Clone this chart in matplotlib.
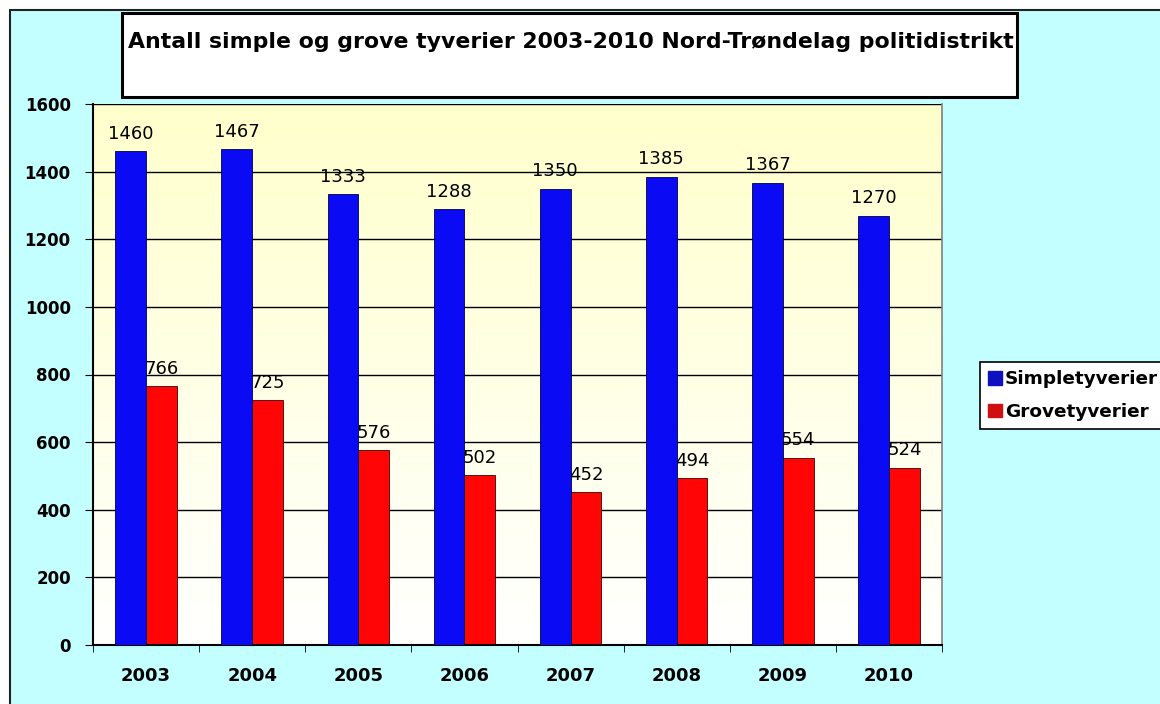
import matplotlib
matplotlib.use("Agg")
import matplotlib.pyplot as plt
import numpy as np
from matplotlib.patches import Rectangle, Patch

years = ["2003", "2004", "2005", "2006", "2007", "2008", "2009", "2010"]
simple = [1460, 1467, 1333, 1288, 1350, 1385, 1367, 1270]
grove = [766, 725, 576, 502, 452, 494, 554, 524]
series_names = ["Simpletyverier", "Grovetyverier"]
title = "Antall simple og grove tyverier 2003-2010 Nord-Trøndelag politidistrikt"
yticks = [0, 200, 400, 600, 800, 1000, 1200, 1400, 1600]

plt.rcParams['font.family'] = ['DejaVu Sans']

W, H = 1160, 704
fig = plt.figure(figsize=(W / 100, H / 100), dpi=100, facecolor="white")

def fx(px):
    return px / W

def fy(py):
    return 1 - py / H

# background axes covering the figure
bg = fig.add_axes([0, 0, 1, 1], zorder=-5)
bg.set_xlim(0, W)
bg.set_ylim(H, 0)
bg.axis("off")
bg.add_patch(Rectangle((10, 10), 1300, 800, facecolor="#C4FFFF",
                       edgecolor="#222222", linewidth=1.5))
bg.add_patch(Rectangle((122, 13), 895, 84, facecolor="white",
                       edgecolor="black", linewidth=2.2))
bg.text(571, 42, title, ha="center", va="center", fontsize=15.8,
        fontweight="bold", color="black")

ax = fig.add_axes([fx(93), fy(645), fx(942) - fx(93), fy(104) - fy(645)], zorder=2)
ax.set_facecolor("none")

# gradient background
grad = np.linspace(0, 1, 256).reshape(-1, 1)
top = np.array([1.0, 1.0, 0.80])
bot = np.array([1.0, 1.0, 1.0])
img = top[None, None, :] * (1 - grad[..., None]) + bot[None, None, :] * grad[..., None]
ax.imshow(img, extent=[-0.5, 7.5, 0, 1600], origin="upper", aspect="auto", zorder=0,
          interpolation="bilinear")

x = np.arange(len(years))
w = 0.29
ax.set_xlim(-0.5, 7.5)
ax.set_ylim(0, 1600)

for yv in yticks[1:]:
    ax.axhline(yv, color="black", linewidth=1.0, zorder=1)

ax.bar(x - w / 2, simple, width=w, color="#0A0AF5", edgecolor="#000040",
       linewidth=0.6, zorder=4)
ax.bar(x + w / 2, grove, width=w, color="#FF0505", edgecolor="#400000",
       linewidth=0.6, zorder=2)

for xi, v in zip(x, simple):
    ax.annotate(str(v), (xi - w / 2, v), xytext=(0, 6), textcoords="offset points",
                ha="center", va="bottom", fontsize=13, color="black", zorder=5)
for xi, v in zip(x, grove):
    ax.annotate(str(v), (xi + w / 2, v), xytext=(0, 6), textcoords="offset points",
                ha="center", va="bottom", fontsize=13, color="black", zorder=3)

ax.set_yticks(yticks)
ax.set_yticklabels([str(t) for t in yticks], fontsize=12, fontweight="bold")
ax.set_xticks(x)
ax.set_xticklabels(years, fontsize=13, fontweight="bold")
ax.set_xticks(np.arange(-0.5, 8.0, 1.0), minor=True)
ax.tick_params(axis="x", which="major", length=0, pad=16)
ax.tick_params(axis="x", which="minor", length=5, direction="out", color="black")
ax.tick_params(axis="y", length=6, direction="out", color="black", pad=10)

for s in ["left", "bottom"]:
    ax.spines[s].set_color("black")
    ax.spines[s].set_linewidth(1.5)
ax.spines["top"].set_visible(False)
ax.spines["right"].set_color("#808080")
ax.spines["right"].set_linewidth(1.2)

handles = [Patch(facecolor="#1010C0", edgecolor="#1010C0"),
           Patch(facecolor="#D01010", edgecolor="#D01010")]
leg = fig.legend(handles, series_names, loc="upper left",
                 bbox_to_anchor=(fx(980), fy(362)), frameon=True, fancybox=False,
                 edgecolor="black", facecolor="white", framealpha=1,
                 prop={"weight": "bold", "size": 13.3}, handlelength=0.75,
                 handleheight=0.75, handletextpad=0.15, borderpad=0.45,
                 labelspacing=0.8, borderaxespad=0)
leg.get_frame().set_linewidth(1.2)

fig.savefig("out.png", dpi=100, facecolor=fig.get_facecolor())
